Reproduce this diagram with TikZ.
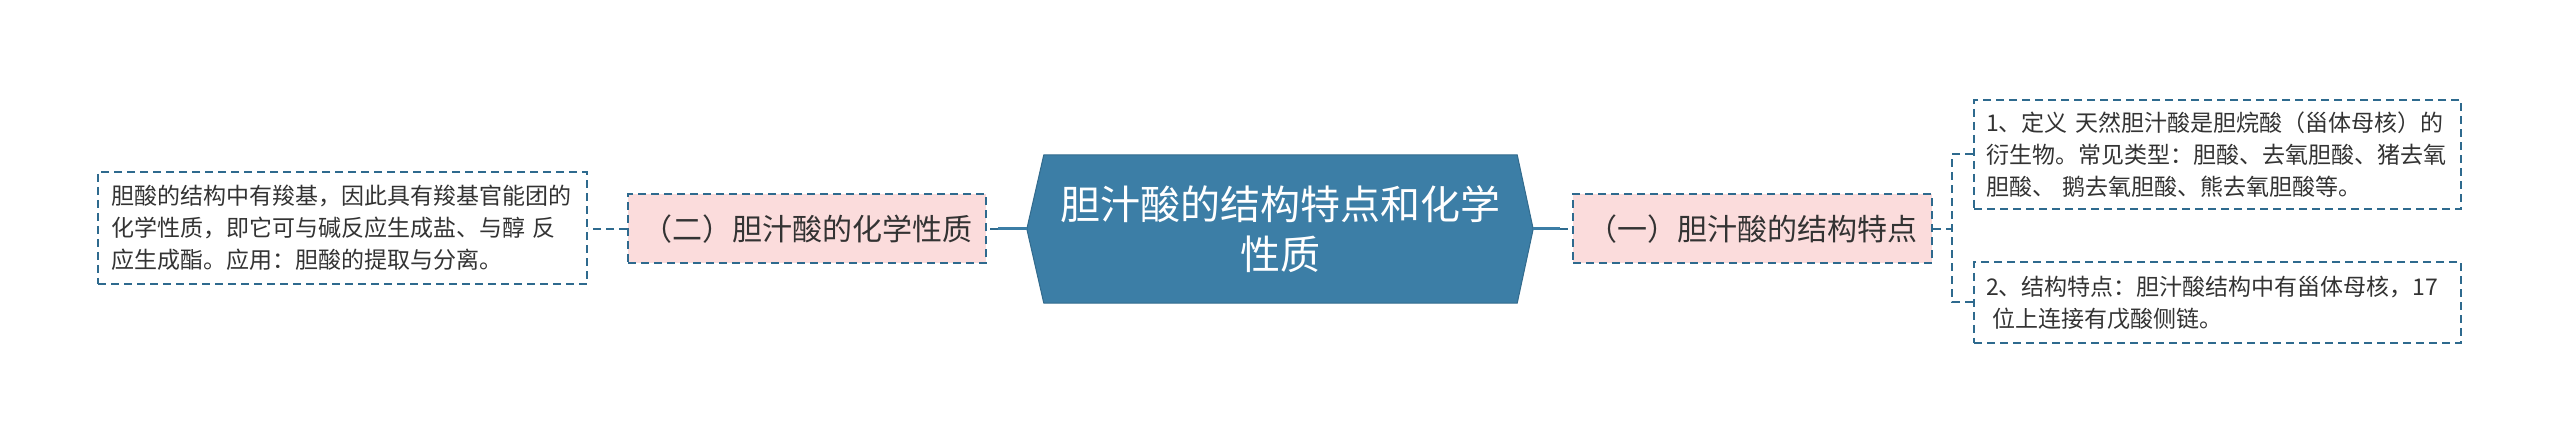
\documentclass[tikz,border=0pt]{standalone}
\usepackage{fontspec}
\newfontfamily\cjk{Noto Sans CJK SC}
\usetikzlibrary{backgrounds}
\definecolor{hexblue}{HTML}{3C7EA6}
\definecolor{dashblue}{HTML}{2E6A8E}
\definecolor{pinkfill}{HTML}{FBDCDC}
\definecolor{txt}{HTML}{333333}
\begin{document}
\begin{tikzpicture}[x=1pt,y=-1pt,
  dashline/.style={draw=dashblue, line width=2pt, dash pattern=on 8pt off 5pt},
  leafbox/.style={dashline, fill=white, inner ysep=0pt, inner xsep=12pt, text width=463pt, align=left,
    font=\cjk\fontsize{23}{32}\selectfont, text=txt},
  pinkbox/.style={dashline, fill=pinkfill, inner sep=0pt, minimum height=69pt,
    font=\cjk\fontsize{30}{36}\selectfont, text=txt},
  conn/.style={draw=hexblue, line width=3pt},
  hexnode/.style={minimum width=506pt, minimum height=148pt, inner sep=0pt, align=center,
    text=white, font=\cjk\fontsize{40}{50}\selectfont},
]
\useasboundingbox (0,0) rectangle (2560,443);

% central hexagon
\node[hexnode] (c) at (1280,229) {胆汁酸的结构特点和化学\\性质};
\begin{pgfonlayer}{background}
\filldraw[fill=hexblue, draw=hexblue!85!black, line width=1pt]
  (c.west) -- ([xshift=17pt]c.north west) -- ([xshift=-16pt]c.north east) -- (c.east)
  -- ([xshift=-16pt]c.south east) -- ([xshift=17pt]c.south west) -- cycle;
\end{pgfonlayer}

% first-level nodes
\node[pinkbox, minimum width=359pt] (r1) at (1752.5,229) {（一）胆汁酸的结构特点};
\node[pinkbox, minimum width=358pt] (l1) at (807,229) {（二）胆汁酸的化学性质};

% leaves
\node[leafbox, inner xsep=13pt, minimum height=112pt] (lt) at (342.5,228) {胆酸的结构中有羧基，因此具有羧基官能团的\\化学性质，即它可与碱反应生成盐、与醇~反\\应生成酯。应用：胆酸的提取与分离。};
\node[leafbox, minimum height=109pt] (rt1) at (2217.5,154.5) {1、定义~天然胆汁酸是胆烷酸（甾体母核）的\\衍生物。常见类型：胆酸、去氧胆酸、猪去氧\\胆酸、~鹅去氧胆酸、熊去氧胆酸等。};
\node[leafbox, minimum height=81pt] (rt2) at (2217.5,302.5) {2、结构特点：胆汁酸结构中有甾体母核，17\\\hspace*{0.3em}位上连接有戊酸侧链。};

% connectors
\draw[conn] (c.east) -- ++(27,0) coordinate (cr);
\draw[dashline] (cr) -- (r1.west);
\draw[conn] (c.west) -- ++(-29,0) coordinate (cl);
\draw[dashline] (cl) -- (l1.east);
\draw[dashline] (l1.west) -- (lt.east |- l1.west);
\coordinate (tr) at (1952,229);
\draw[dashline] (r1.east) -- (tr);
\draw[dashline] (rt1.west) -| (tr) |- (rt2.west);
\end{tikzpicture}
\end{document}
